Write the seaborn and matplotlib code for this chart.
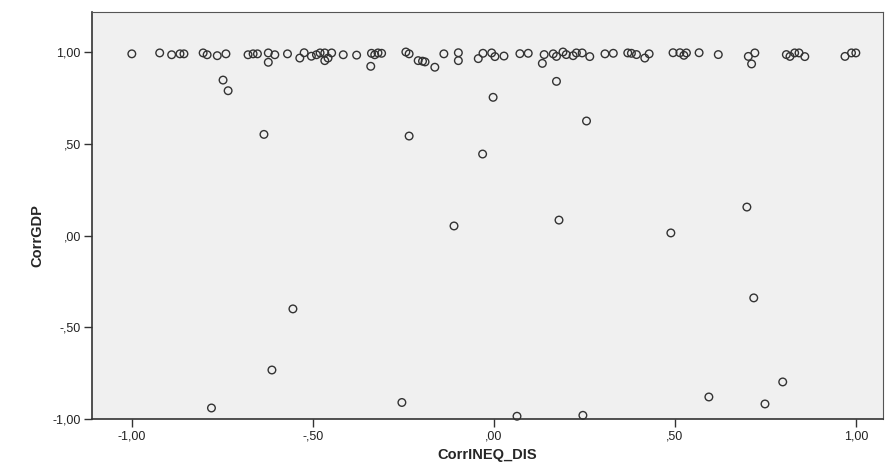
"""
Scatter of CorrGDP against CorrINEQ_DIS, SPSS-style.
"""
import matplotlib
matplotlib.use("Agg")
import matplotlib.pyplot as plt
from matplotlib.ticker import FuncFormatter
import pandas as pd
import seaborn as sns

# points clustered near CorrGDP = 1
band_x = [-1.00, -0.923, -0.89, -0.867, -0.856, -0.803, -0.792, -0.764, -0.74, -0.679,
          -0.665, -0.653, -0.623, -0.623, -0.605, -0.57, -0.536, -0.524, -0.504, -0.49,
          -0.48, -0.467, -0.467, -0.458, -0.448, -0.416, -0.379, -0.34, -0.338, -0.329,
          -0.32, -0.31, -0.243, -0.234, -0.209, -0.197, -0.19, -0.163, -0.138, -0.098,
          -0.098, -0.043, -0.03, -0.006, 0.003, 0.028, 0.072, 0.095, 0.134, 0.139,
          0.164, 0.173, 0.191, 0.2, 0.219, 0.228, 0.244, 0.265, 0.307, 0.33,
          0.37, 0.38, 0.394, 0.417, 0.429, 0.495, 0.514, 0.525, 0.532, 0.567,
          0.62, 0.703, 0.721, 0.712, 0.808, 0.818, 0.831, 0.843, 0.859, 0.97,
          0.988, 1.0]
band_y = [0.99, 0.995, 0.985, 0.99, 0.99, 0.995, 0.985, 0.98, 0.99, 0.985,
          0.99, 0.99, 0.995, 0.944, 0.985, 0.99, 0.967, 0.996, 0.977, 0.985,
          0.995, 0.995, 0.953, 0.967, 0.995, 0.985, 0.983, 0.922, 0.993, 0.985,
          0.995, 0.993, 1.0, 0.99, 0.953, 0.95, 0.946, 0.917, 0.99, 0.996,
          0.953, 0.964, 0.993, 0.995, 0.975, 0.978, 0.991, 0.993, 0.938, 0.986,
          0.99, 0.976, 1.0, 0.986, 0.98, 0.995, 0.995, 0.975, 0.99, 0.993,
          0.995, 0.993, 0.986, 0.967, 0.99, 0.996, 0.996, 0.982, 0.995, 0.996,
          0.986, 0.976, 0.995, 0.935, 0.986, 0.976, 0.995, 0.995, 0.975, 0.976,
          0.995, 0.995]

# scattered points further down
spread_x = [-0.748, -0.734, -0.635, -0.234, -0.031, -0.002, 0.173, 0.256, -0.11, 0.18,
            0.489, 0.699, 0.718, -0.555, -0.613, -0.78, -0.254, 0.064, 0.246, 0.594,
            0.798, 0.749]
spread_y = [0.847, 0.789, 0.551, 0.542, 0.444, 0.753, 0.84, 0.624, 0.052, 0.084,
            0.014, 0.155, -0.34, -0.40, -0.733, -0.94, -0.91, -0.985, -0.98, -0.88,
            -0.798, -0.918]

tick_values = [-1.0, -0.5, 0.0, 0.5, 1.0]


def spss_fmt(v, _pos=None):
    s = f"{v:.2f}".replace(".", ",")
    if s.startswith("0,"):
        s = s[1:]
    elif s.startswith("-0,"):
        s = "-" + s[2:]
    if s == "-,00":
        s = ",00"
    return s


df = pd.DataFrame({
    "CorrINEQ_DIS": band_x + spread_x,
    "CorrGDP": band_y + spread_y,
})

sns.set_theme(style="ticks")
plt.rcParams["font.family"] = ["Liberation Sans", "DejaVu Sans"]

fig = plt.figure(figsize=(8.85, 4.65), dpi=100)
ax = fig.add_axes([92 / 885, 46 / 465, 791 / 885, 407 / 465])
ax.set_facecolor("#f0f0f0")

sns.scatterplot(data=df, x="CorrINEQ_DIS", y="CorrGDP", ax=ax,
                marker="o", s=30, facecolor="none", edgecolor="#333333",
                linewidth=1.0, legend=False, clip_on=False, zorder=3)

ax.set_xlim(-1.11, 1.075)
ax.set_ylim(-1.0, 1.218)
ax.set_xticks(tick_values)
ax.set_yticks(tick_values)
ax.xaxis.set_major_formatter(FuncFormatter(spss_fmt))
ax.yaxis.set_major_formatter(FuncFormatter(spss_fmt))
ax.tick_params(axis="both", direction="out", length=6, width=1.0,
               color="#333333", labelsize=9, labelcolor="#222222", pad=2)

for side in ("left", "bottom"):
    ax.spines[side].set_color("#333333")
    ax.spines[side].set_linewidth(1.2)
for side in ("top", "right"):
    ax.spines[side].set_visible(True)
    ax.spines[side].set_color("#555555")
    ax.spines[side].set_linewidth(0.8)

ax.set_xlabel("CorrINEQ_DIS", fontsize=10.5, fontweight="bold", labelpad=4)
ax.set_ylabel("CorrGDP", fontsize=10.5, fontweight="bold")
ax.yaxis.set_label_coords(-0.06, 0.45)

fig.savefig("out.png", dpi=100)
